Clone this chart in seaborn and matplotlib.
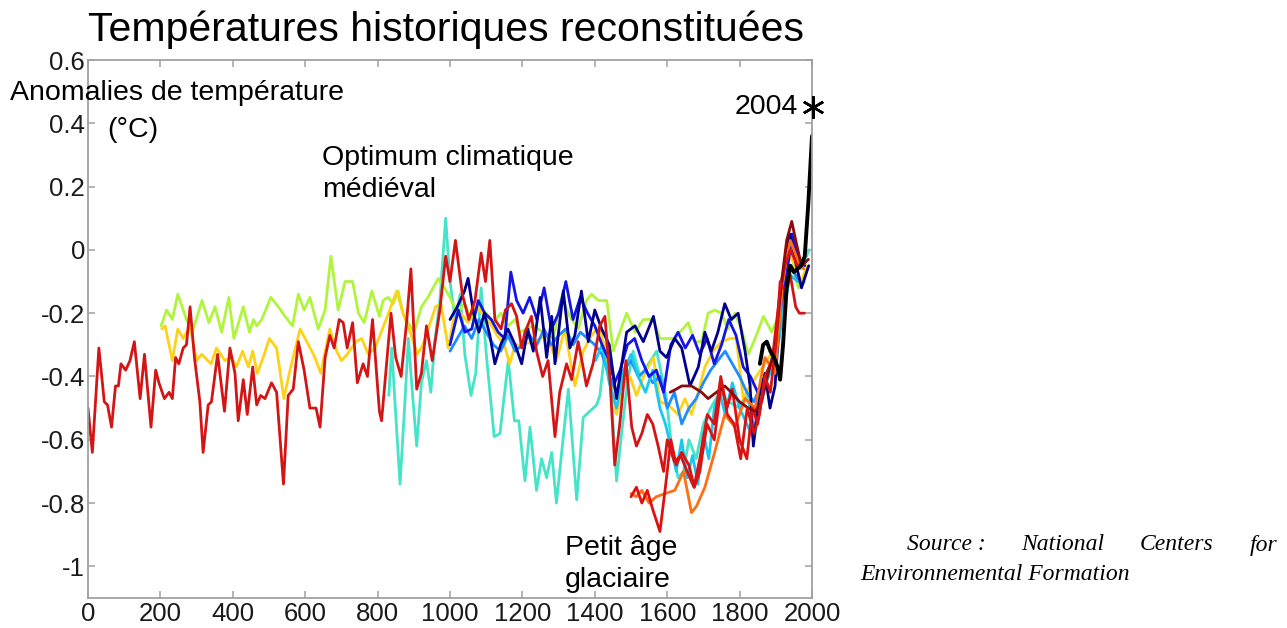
import numpy as np
import pandas as pd
import matplotlib
matplotlib.use("Agg")
import matplotlib.pyplot as plt
import seaborn as sns

# ---------------- data ----------------
moberg_years = [0, 12, 30, 45, 54, 65, 76, 84, 91, 104, 116, 128, 144, 156, 174, 187, 196, 211, 224, 233,
                242, 251, 263, 272, 282, 294, 309, 318, 332, 341, 358, 377, 392, 406, 415, 429, 440, 455,
                466, 477, 489, 507, 521, 540, 553, 567, 581, 597, 613, 630, 641, 655, 668, 680, 694, 705,
                716, 731, 744, 760, 772, 786, 805, 811, 837, 850, 865, 880, 892, 908, 921, 935, 951, 972,
                988, 1000, 1015, 1034, 1052, 1069, 1086, 1098, 1110, 1124, 1141, 1153, 1170, 1184, 1198,
                1207, 1225, 1239, 1256, 1271, 1290, 1303, 1322, 1336, 1354, 1366, 1377, 1395, 1414, 1428,
                1442, 1455, 1469, 1486, 1502, 1515, 1530, 1545, 1560, 1575, 1590, 1600, 1620, 1637, 1655,
                1674, 1690, 1711, 1730, 1748, 1766, 1785, 1803, 1821, 1840, 1855, 1870, 1885, 1900, 1912,
                1926, 1940, 1955, 1965, 1979]
moberg_vals = [-0.50, -0.64, -0.31, -0.48, -0.49, -0.56, -0.43, -0.43, -0.36, -0.38, -0.35, -0.29, -0.47,
               -0.33, -0.56, -0.38, -0.42, -0.47, -0.45, -0.47, -0.34, -0.36, -0.31, -0.30, -0.18, -0.34,
               -0.48, -0.64, -0.49, -0.48, -0.33, -0.51, -0.31, -0.39, -0.54, -0.41, -0.52, -0.37, -0.49,
               -0.46, -0.47, -0.42, -0.45, -0.74, -0.46, -0.44, -0.29, -0.38, -0.50, -0.50, -0.56, -0.34,
               -0.27, -0.31, -0.22, -0.23, -0.31, -0.23, -0.42, -0.36, -0.40, -0.22, -0.51, -0.54, -0.20,
               -0.34, -0.40, -0.23, -0.06, -0.44, -0.39, -0.24, -0.35, -0.19, -0.02, -0.10, 0.03, -0.14,
               -0.22, -0.16, -0.01, -0.10, 0.03, -0.22, -0.25, -0.19, -0.17, -0.21, -0.31, -0.26, -0.21,
               -0.32, -0.40, -0.35, -0.59, -0.45, -0.36, -0.41, -0.29, -0.36, -0.43, -0.36, -0.24, -0.21,
               -0.41, -0.68, -0.55, -0.35, -0.56, -0.62, -0.58, -0.52, -0.55, -0.62, -0.70, -0.60, -0.67,
               -0.65, -0.70, -0.75, -0.66, -0.52, -0.55, -0.40, -0.52, -0.55, -0.66, -0.50, -0.58, -0.52,
               -0.40, -0.45, -0.30, -0.10, -0.13, -0.08, -0.18, -0.20, -0.20]

green_years = [202, 217, 233, 248, 272, 288, 315, 334, 351, 369, 389, 403, 429, 446, 457, 466, 480, 505,
               526, 544, 565, 581, 597, 613, 636, 655, 671, 691, 710, 731, 747, 763, 784, 805, 815, 829,
               843, 857, 870, 884, 901, 921, 939, 958, 968, 985, 1000, 1020, 1040, 1060, 1080, 1100, 1120,
               1140, 1160, 1180, 1193, 1230, 1257, 1285, 1308, 1331, 1354, 1377, 1391, 1410, 1433, 1451,
               1469, 1488, 1511, 1534, 1562, 1580, 1603, 1621, 1635, 1658, 1676, 1695, 1713, 1731, 1750,
               1768, 1787, 1805, 1824, 1843, 1866, 1889, 1907, 1926, 1944, 1963, 1980]
green_vals = [-0.24, -0.19, -0.22, -0.14, -0.22, -0.26, -0.16, -0.23, -0.18, -0.26, -0.15, -0.28, -0.18,
              -0.26, -0.22, -0.24, -0.22, -0.15, -0.18, -0.21, -0.24, -0.14, -0.19, -0.15, -0.25, -0.19,
              -0.02, -0.19, -0.10, -0.10, -0.20, -0.23, -0.13, -0.21, -0.16, -0.15, -0.17, -0.13, -0.20,
              -0.23, -0.26, -0.18, -0.15, -0.11, -0.09, -0.12, -0.15, -0.20, -0.17, -0.22, -0.18, -0.20,
              -0.23, -0.20, -0.24, -0.22, -0.26, -0.24, -0.26, -0.28, -0.15, -0.21, -0.25, -0.16, -0.14,
              -0.16, -0.16, -0.32, -0.26, -0.20, -0.26, -0.22, -0.22, -0.28, -0.28, -0.28, -0.26, -0.23,
              -0.29, -0.29, -0.20, -0.19, -0.20, -0.25, -0.20, -0.25, -0.33, -0.28, -0.21, -0.26, -0.21,
              -0.12, -0.05, -0.12, -0.10]

yellow_years = [204, 213, 233, 248, 263, 282, 300, 314, 340, 355, 378, 396, 410, 427, 443, 455, 468, 484,
                501, 521, 541, 558, 586, 609, 627, 643, 668, 687, 700, 716, 740, 756, 774, 793, 810, 830,
                853, 870, 890, 910, 925, 940, 960, 975, 995, 1010, 1030, 1050, 1070, 1090, 1110, 1130,
                1150, 1165, 1180, 1193, 1230, 1267, 1294, 1317, 1345, 1368, 1391, 1414, 1437, 1460, 1479,
                1497, 1515, 1538, 1562, 1580, 1603, 1630, 1649, 1667, 1686, 1704, 1727, 1750, 1773, 1791,
                1810, 1829, 1852, 1875, 1898, 1916, 1935, 1953, 1971, 1985]
yellow_vals = [-0.25, -0.24, -0.35, -0.25, -0.28, -0.24, -0.35, -0.33, -0.36, -0.31, -0.35, -0.34, -0.37,
               -0.32, -0.37, -0.32, -0.39, -0.34, -0.28, -0.31, -0.47, -0.38, -0.25, -0.30, -0.34, -0.39,
               -0.25, -0.32, -0.35, -0.33, -0.29, -0.28, -0.33, -0.31, -0.26, -0.20, -0.13, -0.20, -0.26,
               -0.33, -0.30, -0.25, -0.18, -0.17, -0.31, -0.22, -0.20, -0.23, -0.18, -0.20, -0.23, -0.27,
               -0.30, -0.36, -0.30, -0.30, -0.29, -0.27, -0.35, -0.25, -0.43, -0.32, -0.27, -0.24, -0.37,
               -0.52, -0.42, -0.40, -0.46, -0.39, -0.34, -0.48, -0.49, -0.52, -0.47, -0.52, -0.45, -0.37,
               -0.32, -0.29, -0.28, -0.28, -0.47, -0.43, -0.39, -0.35, -0.31, -0.12, -0.01, -0.05, -0.10,
               -0.05]

turq_years = [831, 839, 850, 862, 876, 885, 896, 908, 921, 935, 947, 958, 972, 988, 1000, 1014, 1028, 1041,
              1058, 1071, 1086, 1101, 1122, 1138, 1161, 1178, 1190, 1207, 1221, 1239, 1253, 1267, 1281,
              1294, 1313, 1327, 1350, 1368, 1386, 1405, 1414, 1433, 1445, 1460, 1474, 1490, 1506, 1525,
              1543, 1571, 1598, 1612, 1630, 1645, 1660, 1680, 1700, 1720, 1745, 1770, 1800, 1820, 1840,
              1860, 1880, 1900, 1920, 1945, 1970, 1992]
turq_vals = [-0.46, -0.31, -0.52, -0.74, -0.47, -0.28, -0.45, -0.62, -0.42, -0.35, -0.45, -0.29, -0.16,
             0.10, -0.10, -0.22, -0.14, -0.33, -0.46, -0.39, -0.12, -0.34, -0.59, -0.58, -0.35, -0.54,
             -0.54, -0.73, -0.56, -0.76, -0.66, -0.72, -0.64, -0.80, -0.59, -0.44, -0.79, -0.53, -0.51,
             -0.49, -0.46, -0.27, -0.45, -0.73, -0.58, -0.42, -0.32, -0.40, -0.37, -0.32, -0.47, -0.62,
             -0.72, -0.70, -0.60, -0.66, -0.55, -0.50, -0.45, -0.48, -0.50, -0.45, -0.58, -0.45, -0.40,
             -0.30, -0.15, -0.05, -0.06, 0.00]

navy_years = [1000, 1020, 1040, 1050, 1065, 1080, 1095, 1110, 1124, 1140, 1160, 1180, 1198, 1215, 1230,
              1249, 1267, 1281, 1290, 1313, 1331, 1345, 1363, 1382, 1400, 1419, 1440, 1460, 1488, 1511,
              1534, 1562, 1580, 1598, 1621, 1640, 1663, 1686, 1704, 1722, 1740, 1759, 1777, 1796, 1815,
              1829, 1838, 1852, 1870, 1884, 1898, 1916, 1939, 1957, 1971, 1991]
navy_vals = [-0.22, -0.18, -0.13, -0.09, -0.20, -0.26, -0.20, -0.27, -0.36, -0.30, -0.25, -0.30, -0.36,
             -0.25, -0.32, -0.15, -0.34, -0.21, -0.36, -0.13, -0.31, -0.27, -0.13, -0.29, -0.19, -0.25,
             -0.30, -0.47, -0.26, -0.24, -0.29, -0.21, -0.32, -0.34, -0.28, -0.31, -0.43, -0.37, -0.26,
             -0.32, -0.26, -0.17, -0.22, -0.20, -0.32, -0.43, -0.62, -0.47, -0.39, -0.50, -0.43, -0.10,
             0.05, -0.05, -0.12, -0.05]

blue_years = [1000, 1023, 1041, 1060, 1078, 1096, 1114, 1133, 1151, 1168, 1184, 1202, 1220, 1240, 1260,
              1280, 1300, 1320, 1340, 1360, 1380, 1400, 1420, 1440, 1455, 1470, 1490, 1510, 1530, 1550,
              1570, 1590, 1610, 1630, 1650, 1670, 1690, 1710, 1730, 1750, 1770, 1790, 1810, 1830, 1850,
              1870, 1890, 1910, 1930, 1945, 1960, 1980]
blue_vals = [-0.30, -0.19, -0.26, -0.25, -0.16, -0.20, -0.22, -0.26, -0.28, -0.07, -0.16, -0.20, -0.15,
             -0.22, -0.12, -0.25, -0.20, -0.10, -0.22, -0.15, -0.20, -0.24, -0.30, -0.35, -0.42, -0.38,
             -0.30, -0.28, -0.35, -0.40, -0.38, -0.45, -0.30, -0.26, -0.31, -0.27, -0.33, -0.28, -0.36,
             -0.30, -0.22, -0.27, -0.37, -0.40, -0.45, -0.40, -0.35, -0.20, -0.08, 0.05, -0.02, -0.05]

lblue_years = [1000, 1020, 1040, 1060, 1080, 1100, 1120, 1140, 1160, 1180, 1200, 1220, 1240, 1260, 1280,
               1300, 1320, 1340, 1360, 1380, 1400, 1420, 1440, 1460, 1480, 1500, 1520, 1540, 1560, 1580,
               1600, 1620, 1640, 1660, 1680, 1700, 1720, 1740, 1760, 1780, 1800, 1820, 1840, 1860, 1880,
               1900, 1920, 1940, 1965]
lblue_vals = [-0.32, -0.28, -0.24, -0.28, -0.22, -0.26, -0.30, -0.32, -0.27, -0.32, -0.30, -0.27, -0.30,
              -0.25, -0.30, -0.27, -0.25, -0.30, -0.26, -0.28, -0.30, -0.33, -0.40, -0.45, -0.38, -0.35,
              -0.40, -0.38, -0.42, -0.40, -0.50, -0.45, -0.55, -0.50, -0.47, -0.42, -0.38, -0.35, -0.32,
              -0.36, -0.40, -0.45, -0.48, -0.42, -0.38, -0.30, -0.18, -0.05, -0.10]

cyan_years = [1402, 1420, 1440, 1460, 1480, 1500, 1520, 1540, 1560, 1580, 1595, 1610, 1625, 1640, 1655,
              1670, 1685, 1700, 1715, 1730, 1745, 1760, 1780, 1800, 1820, 1840, 1860, 1880, 1900, 1920,
              1940, 1960]
cyan_vals = [-0.35, -0.30, -0.42, -0.50, -0.38, -0.33, -0.40, -0.45, -0.38, -0.50, -0.55, -0.62, -0.70,
             -0.60, -0.72, -0.65, -0.74, -0.58, -0.66, -0.50, -0.45, -0.52, -0.42, -0.50, -0.55, -0.60,
             -0.45, -0.40, -0.35, -0.20, -0.08, -0.10]

orange_years = [1500, 1515, 1530, 1550, 1570, 1594, 1621, 1645, 1667, 1681, 1704, 1731, 1759, 1787, 1815,
                1843, 1870, 1898, 1921, 1940, 1963, 1977]
orange_vals = [-0.77, -0.78, -0.76, -0.80, -0.78, -0.77, -0.76, -0.70, -0.83, -0.81, -0.75, -0.64, -0.52,
               -0.56, -0.47, -0.50, -0.34, -0.39, -0.08, 0.03, -0.04, -0.06]

red2_years = [1500, 1515, 1530, 1545, 1560, 1580, 1595, 1610, 1625, 1640, 1660, 1675, 1690, 1710, 1730,
              1750, 1765, 1780, 1800, 1820, 1835, 1850, 1870, 1890, 1910, 1925, 1940, 1960, 1980]
red2_vals = [-0.78, -0.75, -0.80, -0.76, -0.82, -0.89, -0.75, -0.60, -0.68, -0.64, -0.68, -0.75, -0.70,
             -0.55, -0.60, -0.42, -0.50, -0.44, -0.60, -0.66, -0.50, -0.55, -0.40, -0.35, -0.15, -0.05,
             0.00, -0.05, -0.04]

maroon_years = [1608, 1625, 1640, 1667, 1695, 1713, 1736, 1759, 1777, 1800, 1824, 1843, 1861, 1879, 1898,
                1916, 1930, 1944, 1957, 1971, 1990]
maroon_vals = [-0.45, -0.44, -0.43, -0.43, -0.45, -0.47, -0.45, -0.43, -0.45, -0.48, -0.50, -0.51, -0.48,
               -0.39, -0.31, -0.10, 0.03, 0.09, 0.02, -0.05, -0.03]

instr_years = [1856, 1865, 1875, 1885, 1895, 1905, 1912, 1920, 1930, 1940, 1950, 1960, 1970, 1980, 1990, 2000]
instr_vals = [-0.36, -0.30, -0.29, -0.32, -0.34, -0.37, -0.41, -0.30, -0.12, -0.05, -0.07, -0.06, -0.05,
              -0.02, 0.15, 0.36]

star_year = [2004]
star_value = [0.45]

x_ticks = [0, 200, 400, 600, 800, 1000, 1200, 1400, 1600, 1800, 2000]
y_ticks = [-1.0, -0.8, -0.6, -0.4, -0.2, 0.0, 0.2, 0.4, 0.6]
y_tick_labels = ['-1', '-0.8', '-0.6', '-0.4', '-0.2', '0', '0.2', '0.4', '0.6']

# drawing order: bottom to top
series = [
    ("turq", turq_years, turq_vals, "#45e3c8", 2.0),
    ("green", green_years, green_vals, "#b0f53c", 2.0),
    ("yellow", yellow_years, yellow_vals, "#ffd21a", 2.0),
    ("lblue", lblue_years, lblue_vals, "#1e8cff", 2.0),
    ("cyan", cyan_years, cyan_vals, "#19c8f0", 2.0),
    ("blue", blue_years, blue_vals, "#1414e6", 2.0),
    ("navy", navy_years, navy_vals, "#00008c", 2.0),
    ("orange", orange_years, orange_vals, "#ff6e14", 2.0),
    ("red2", red2_years, red2_vals, "#e01010", 2.0),
    ("maroon", maroon_years, maroon_vals, "#8c0a0a", 2.0),
    ("moberg", moberg_years, moberg_vals, "#d41515", 2.0),
    ("instr", instr_years, instr_vals, "#000000", 2.8),
]

# ---------------- styling ----------------
sns.set_theme(style="white")
plt.rcParams['font.family'] = ['Liberation Sans', 'DejaVu Sans']

W, H = 1287, 628
fig = plt.figure(figsize=(W / 100, H / 100), dpi=100)
ax = fig.add_axes([88 / W, 30 / H, 724 / W, 538 / H])

for name, yrs, vals, col, lw in series:
    df = pd.DataFrame({"year": yrs, "value": vals})
    sns.lineplot(data=df, x="year", y="value", ax=ax, color=col, linewidth=lw,
                 estimator=None, sort=False, legend=False)

ax.plot(star_year, star_value, linestyle="none", marker=(6, 2, 0), markersize=16,
        markeredgewidth=1.8, color="black", clip_on=False, zorder=5)

ax.set_xlim(0, 2000)
ax.set_ylim(-1.1, 0.6)
ax.set_xticks(x_ticks)
ax.set_xticklabels([str(t) for t in x_ticks])
ax.set_yticks(y_ticks)
ax.set_yticklabels(y_tick_labels)
ax.set_xlabel("")
ax.set_ylabel("")

spine_col = "#a0a0a0"
for s in ax.spines.values():
    s.set_visible(True)
    s.set_color(spine_col)
    s.set_linewidth(1.3)
ax.tick_params(axis="both", which="major", direction="in", length=5, width=1.1, color=spine_col,
               labelsize=18.5, labelcolor="#1a1a1a", top=True, right=True, bottom=True, left=True)
ax.tick_params(axis="x", pad=3)
ax.tick_params(axis="y", pad=2)
ax.grid(False)

def fx(px):
    return px / W

def fy(py):
    return 1 - py / H

fig.text(fx(446), fy(30), "Températures historiques reconstituées", ha="center", va="center",
         fontsize=29.5, color="black")
fig.text(fx(10), fy(93), "Anomalies de température", ha="left", va="center", fontsize=20.5, color="black")
fig.text(fx(107), fy(130), "(°C)", ha="left", va="center", fontsize=20.5, color="black")
fig.text(fx(322), fy(158), "Optimum climatique", ha="left", va="center", fontsize=20.5, color="black")
fig.text(fx(322), fy(190), "médiéval", ha="left", va="center", fontsize=20.5, color="black")
fig.text(fx(565), fy(548), "Petit âge", ha="left", va="center", fontsize=20.5, color="black")
fig.text(fx(565), fy(580), "glaciaire", ha="left", va="center", fontsize=20.5, color="black")
fig.text(fx(798), fy(107), "2004", ha="right", va="center", fontsize=20.5, color="black")

src_kw = dict(fontsize=17, style="italic", family=["Liberation Serif", "DejaVu Serif"], color="black",
              va="center")
fig.text(fx(907), fy(545), "Source :", ha="left", **src_kw)
fig.text(fx(1021), fy(545), "National", ha="left", **src_kw)
fig.text(fx(1140), fy(545), "Centers", ha="left", **src_kw)
fig.text(fx(1277), fy(545), "for", ha="right", **src_kw)
fig.text(fx(860), fy(574), "Environnemental Formation", ha="left", **src_kw)

fig.savefig("out.png", dpi=100)
